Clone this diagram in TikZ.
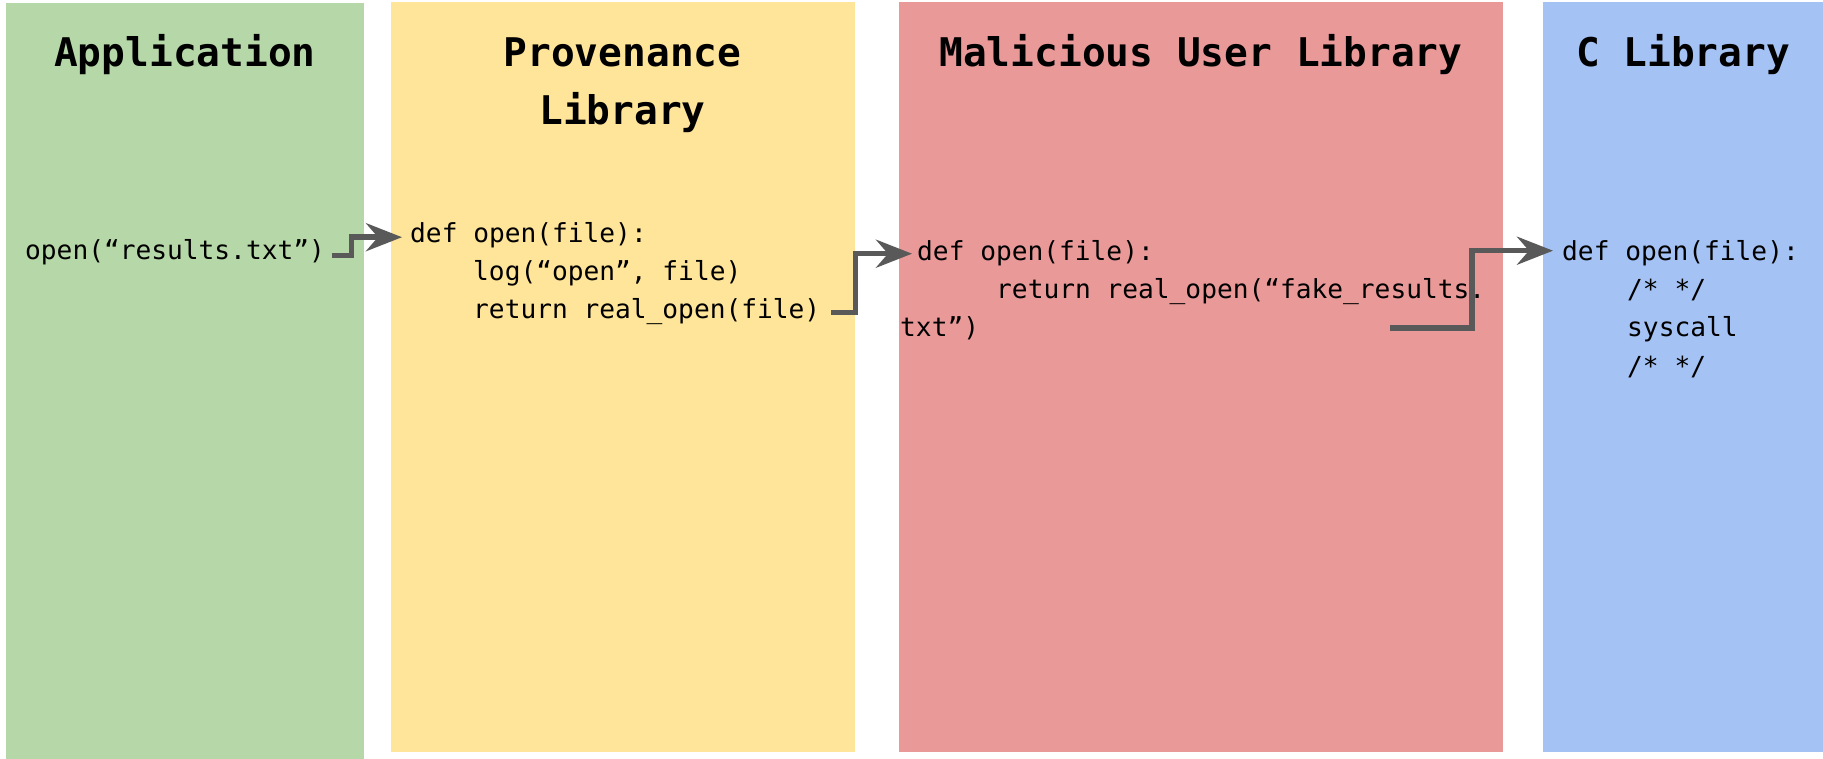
\documentclass[tikz,border=0pt]{standalone}
\usepackage{fontspec}
\setmonofont{DejaVu Sans Mono}
\usetikzlibrary{arrows.meta}

\definecolor{appgreen}{HTML}{B6D7A8}
\definecolor{provyellow}{HTML}{FFE599}
\definecolor{malred}{HTML}{EA9999}
\definecolor{clibblue}{HTML}{A4C2F4}
\definecolor{flowgray}{HTML}{595959}

\tikzset{
  lanetitle/.style={font=\ttfamily\bfseries\fontsize{39.5}{58}\selectfont,
                    align=center, anchor=base, inner sep=0pt},
  codeline/.style={font=\ttfamily\fontsize{26.2}{37.8}\selectfont,
                   anchor=base west, inner sep=0pt},
  flow/.style={draw=flowgray, line width=5.5pt,
               -{Stealth[length=36pt,width=28pt,inset=12pt]}},
}

\begin{document}
\begin{tikzpicture}[x=1pt,y=-1pt]
\useasboundingbox (0,0) rectangle (1823,759);

% lanes
\fill[appgreen]   (6,3)    rectangle (364,759);
\fill[provyellow] (391,2)  rectangle (855,752);
\fill[malred]     (899,2)  rectangle (1503,752);
\fill[clibblue]   (1543,2) rectangle (1823,752);

% lane titles (a two-line title sits on the baseline of its last line)
\node[lanetitle] (apptitle)  at (185,67)    {Application};
\node[lanetitle] (provtitle) at (622.5,125) {Provenance\\Library};
\node[lanetitle] (maltitle)  at (1201,67)   {Malicious User Library};
\node[lanetitle] (ctitle)    at (1683,67)   {C Library};

% application
\node[codeline] (app) at (25,260) {open(“results.txt”)};

% provenance library
\node[codeline] (provdef) at (410,243) {def open(file):};
\node[codeline] (provlog) at (473,281) {log(“open”, file)};
\node[codeline] (provret) at (473,318.5) {return real\_open(file)};

% malicious user library
\node[codeline] (maldef) at (917,261) {def open(file):};
\node[codeline] (malret) at (996,299) {return real\_open(“fake\_results.};
\node[codeline] (maltxt) at (900,337) {txt”)};

% C library
\node[codeline] (cdef)  at (1562,261) {def open(file):};
\node[codeline] (ccom1) at (1627,299) {/* */};
\node[codeline] (csys)  at (1627,337) {syscall};
\node[codeline] (ccom2) at (1627,375) {/* */};

% call flow
\draw[flow] ([xshift=6.5pt,yshift=-3pt]app.east) -- ++(20pt,0)
            |- ([xshift=-8pt,yshift=-1.5pt]provdef.west);
\draw[flow] ([xshift=11pt,yshift=-1pt]provret.east) -- ++(24pt,0)
            |- ([xshift=-5pt]maldef.west);
\coordinate (malstart) at ([xshift=411pt,yshift=1pt]maltxt.east);
\draw[flow] (malstart) -| ([xshift=-90pt,yshift=3pt]cdef.west)
            -- ([xshift=-9pt,yshift=3pt]cdef.west);
\end{tikzpicture}
\end{document}
